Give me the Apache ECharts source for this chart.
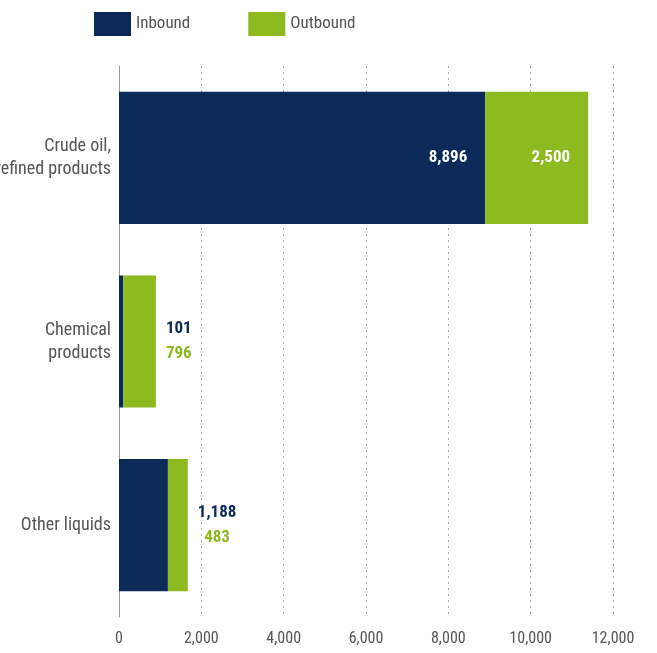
<!DOCTYPE html>
<html><head><meta charset="utf-8">
<script src="https://cdn.jsdelivr.net/npm/echarts@6/dist/echarts.min.js"></script>
<style>html,body{margin:0;padding:0;background:#fff}#c{width:657px;height:653px}</style>
</head><body><div id="c"></div>
<script>
const categories = ['Crude oil,\nrefined products', 'Chemical\nproducts', 'Other liquids'];
const inbound = [8896, 101, 1188];
const outbound = [2500, 796, 483];
const xTicks = [0, 2000, 4000, 6000, 8000, 10000, 12000];

const NAVY = '#0b2a5a', GREEN = '#8cba1f';
const FONT = "'Liberation Sans Narrow', 'Roboto Condensed', 'Roboto', sans-serif";
const fmt = v => v.toLocaleString('en-US');

const chart = echarts.init(document.getElementById('c'));
chart.setOption({
  animation: false,
  textStyle: { fontFamily: FONT },
  legend: {
    left: 94, top: 12, padding: 0, itemWidth: 37, itemHeight: 24, itemGap: 58,
    icon: 'rect',
    textStyle: { fontFamily: FONT, fontSize: 17, color: '#555' },
    data: ['Inbound', 'Outbound']
  },
  grid: { left: 119, right: 44, top: 66, bottom: 36, containLabel: false, outerBoundsMode: 'none' },
  xAxis: {
    type: 'value', min: xTicks[0], max: xTicks[xTicks.length - 1], interval: 2000,
    axisLine: { show: false }, axisTick: { show: false },
    axisLabel: { fontFamily: FONT, fontSize: 16, color: '#555', margin: 14, formatter: v => fmt(v) },
    splitLine: { show: true, lineStyle: { type: [2, 4], color: '#aaa', width: 1 } }
  },
  yAxis: {
    type: 'category', inverse: true, data: categories,
    axisLine: { show: true, lineStyle: { color: '#999', width: 1 } },
    axisTick: { show: false },
    axisLabel: { fontFamily: FONT, fontSize: 18, color: '#555', margin: 8, lineHeight: 23, align: 'right' }
  },
  series: [
    {
      name: 'Inbound', type: 'bar', stack: 't', barWidth: '72%',
      itemStyle: { color: NAVY },
      data: inbound.map((v, i) => ({
        value: v,
        label: i === 0 ? { show: true, position: 'insideRight', distance: 18, color: '#fff', fontWeight: 'bold', fontSize: 17, fontFamily: FONT, formatter: p => fmt(p.value) } : { show: false }
      }))
    },
    {
      name: 'Outbound', type: 'bar', stack: 't', barWidth: '72%',
      itemStyle: { color: GREEN },
      data: outbound.map((v, i) => ({
        value: v,
        label: i === 0
          ? { show: true, position: 'insideRight', distance: 18, color: '#fff', fontWeight: 'bold', fontSize: 17, fontFamily: FONT, formatter: p => fmt(p.value) }
          : { show: true, position: 'right', distance: 10, align: 'left', fontFamily: FONT,
              formatter: p => '{a|' + fmt(inbound[p.dataIndex]) + '}\n{b|' + fmt(p.value) + '}',
              rich: {
                a: { color: NAVY, fontWeight: 'bold', fontSize: 17, lineHeight: 25, fontFamily: FONT },
                b: { color: GREEN, fontWeight: 'bold', fontSize: 17, lineHeight: 25, fontFamily: FONT, align: 'center' }
              } }
      }))
    }
  ]
});
</script></body></html>
